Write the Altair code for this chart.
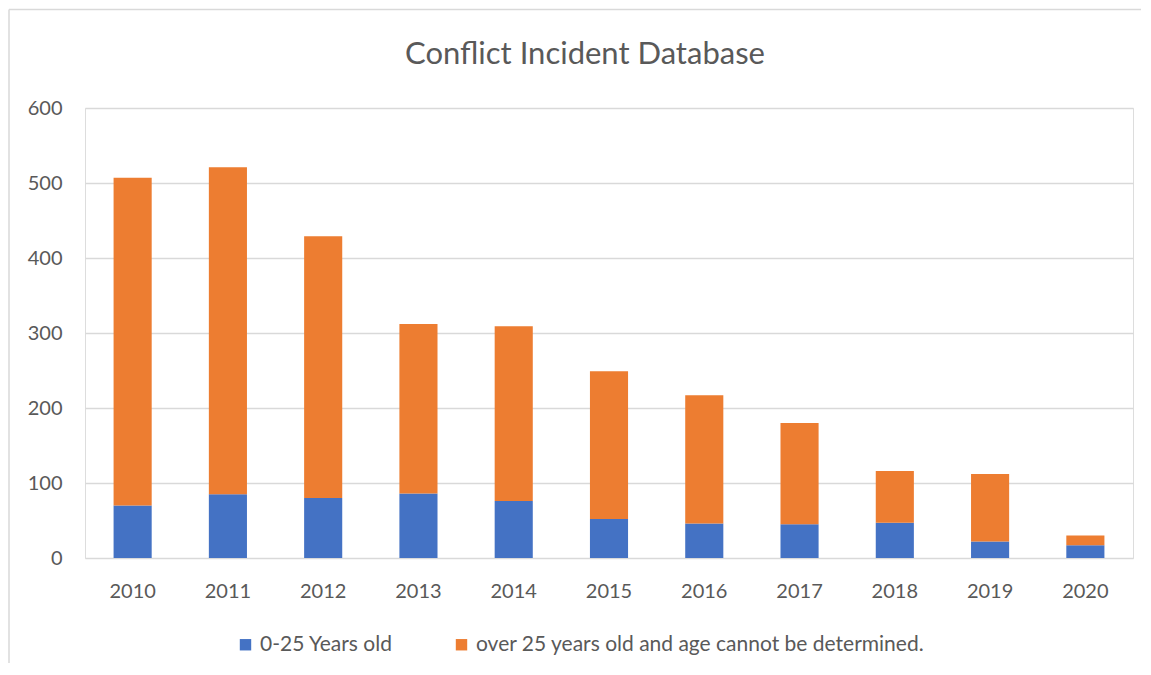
import altair as alt
import pandas as pd

years = ["2010", "2011", "2012", "2013", "2014", "2015", "2016", "2017", "2018", "2019", "2020"]
young = [70, 85, 80, 86, 76, 52, 46, 45, 47, 22, 17]
older = [437, 436, 349, 226, 233, 197, 171, 135, 69, 90, 13]
series = ["0-25 Years old", "over 25 years old and age cannot be determined."]
colors = ["#4472C4", "#ED7D31"]
title_text = "Conflict Incident Database"

rows = []
for i, y in enumerate(years):
    rows.append({"year": y, "series": series[0], "value": young[i], "ord": 0})
    rows.append({"year": y, "series": series[1], "value": older[i], "ord": 1})
df = pd.DataFrame(rows)

FONT = "Lato"
GREY = "#595959"

bars = alt.Chart(df).mark_bar().encode(
    x=alt.X("year:N", sort=years,
            scale=alt.Scale(paddingInner=0.6, paddingOuter=0.3),
            axis=alt.Axis(title=None, labelAngle=0, ticks=False, domain=False,
                          labelFontSize=20, labelColor=GREY, labelFont=FONT,
                          labelPadding=23, grid=False)),
    y=alt.Y("value:Q", stack="zero",
            scale=alt.Scale(domain=[0, 600], nice=False),
            axis=alt.Axis(title=None, values=[0, 100, 200, 300, 400, 500, 600],
                          ticks=False, domain=False, labelFontSize=20,
                          labelColor=GREY, labelFont=FONT, labelPadding=23,
                          gridColor="#D9D9D9", gridWidth=1.5)),
    color=alt.Color("series:N", sort=series,
                    scale=alt.Scale(domain=series, range=colors),
                    legend=alt.Legend(title=None, orient="none", direction="horizontal",
                                      legendX=150, legendY=526, symbolType="square",
                                      symbolSize=130, symbolStrokeWidth=0,
                                      labelFontSize=21, labelColor=GREY, labelFont=FONT,
                                      labelLimit=0, columnPadding=58, labelOffset=4)),
    order=alt.Order("ord:Q", sort="ascending"),
)

one = pd.DataFrame({"a": [0]})
top_line = alt.Chart(one).mark_rule(stroke="#D9D9D9", strokeWidth=1.5).encode(
    x=alt.value(-76), x2=alt.value(1056), y=alt.value(-98.5))
left_line = alt.Chart(one).mark_rule(stroke="#D9D9D9", strokeWidth=1.5).encode(
    x=alt.value(-76), y=alt.value(-98.5), y2=alt.value(555))

title = alt.Chart(pd.DataFrame({"t": [title_text]})).mark_text(
    font=FONT, fontSize=31, color=GREY, align="center", baseline="alphabetic"
).encode(text="t:N", x=alt.value(500), y=alt.value(-44.5))

chart = alt.layer(top_line, left_line, bars, title).properties(
    width=1048, height=450,
    padding={"left": 77, "top": 100, "right": 8, "bottom": 105},
    autosize=alt.AutoSizeParams(type="none"),
).configure_view(stroke=None).configure(background="white")

chart.save("out.html", embed_options={"renderer": "svg", "actions": False})
